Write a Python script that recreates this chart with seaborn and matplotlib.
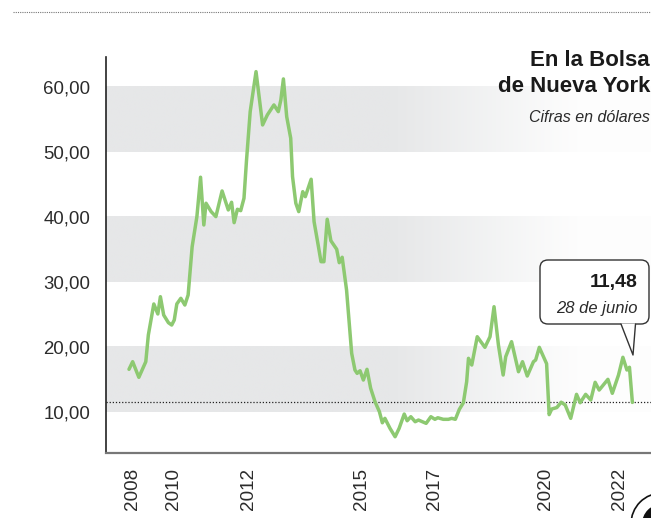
import numpy as np
import pandas as pd
import matplotlib
matplotlib.use("Agg")
import matplotlib.pyplot as plt
import seaborn as sns
from matplotlib.colors import LinearSegmentedColormap
from matplotlib.patches import FancyBboxPatch, Polygon, Circle

# Acción en la Bolsa de Nueva York (dólares), fecha como año decimal
anio = [2008.70, 2008.80, 2008.97, 2009.16, 2009.23, 2009.38, 2009.49, 2009.56, 2009.65, 2009.78,
        2009.87, 2009.94, 2010.01, 2010.12, 2010.23, 2010.32, 2010.43, 2010.56, 2010.66, 2010.75,
        2010.81, 2010.95, 2011.08, 2011.25, 2011.42, 2011.51, 2011.58, 2011.67, 2011.76, 2011.85,
        2011.92, 2012.02, 2012.18, 2012.36, 2012.49, 2012.67, 2012.79, 2012.86, 2012.93, 2013.02,
        2013.13, 2013.18, 2013.27, 2013.35, 2013.46, 2013.53, 2013.69, 2013.77, 2013.89, 2013.96,
        2014.04, 2014.13, 2014.23, 2014.39, 2014.46, 2014.54, 2014.66, 2014.80, 2014.89, 2014.95,
        2015.03, 2015.12, 2015.22, 2015.32, 2015.44, 2015.56, 2015.64, 2015.71, 2015.85, 2015.99,
        2016.10, 2016.24, 2016.32, 2016.42, 2016.54, 2016.63, 2016.84, 2016.97, 2017.08, 2017.16,
        2017.31, 2017.45, 2017.54, 2017.64, 2017.75, 2017.86, 2017.95, 2018.00, 2018.09, 2018.24,
        2018.45, 2018.59, 2018.70, 2018.82, 2018.95, 2019.02, 2019.18, 2019.37, 2019.48, 2019.61,
        2019.78, 2019.84, 2019.94, 2020.14, 2020.21, 2020.28, 2020.42, 2020.54, 2020.65, 2020.80,
        2020.96, 2021.06, 2021.21, 2021.35, 2021.47, 2021.58, 2021.82, 2021.94, 2022.11, 2022.23,
        2022.34, 2022.41, 2022.49]
precio = [16.57, 17.74, 15.34, 17.74, 21.85, 26.62, 25.08, 27.74, 24.92, 23.74,
          23.38, 24.15, 26.62, 27.49, 26.46, 28.00, 35.43, 40.05, 46.11, 38.77,
          42.11, 40.82, 40.05, 44.00, 41.08, 42.26, 39.12, 41.18, 40.97, 42.88,
          48.77, 56.20, 62.35, 54.15, 55.69, 57.23, 56.20, 58.00, 61.23, 55.43,
          52.11, 46.20, 42.11, 40.82, 43.89, 43.12, 45.80, 39.28, 35.43, 33.12,
          33.12, 39.65, 36.35, 35.03, 32.97, 33.80, 28.77, 19.03, 16.46, 15.95,
          16.35, 14.92, 16.57, 13.65, 11.58, 10.05, 8.35, 9.03, 7.49, 6.20,
          7.49, 9.69, 8.66, 9.28, 8.51, 8.77, 8.26, 9.28, 8.88, 9.12,
          8.88, 8.88, 9.03, 8.88, 10.42, 11.43, 14.66, 18.26, 17.23, 21.58,
          19.95, 21.58, 26.20, 20.31, 15.69, 18.51, 20.82, 16.20, 17.74, 15.54,
          17.74, 18.00, 19.95, 17.43, 9.60, 10.46, 10.69, 11.51, 11.08, 9.03,
          12.72, 11.43, 12.72, 11.85, 14.57, 13.38, 15.03, 12.88, 15.69, 18.42,
          16.46, 16.88, 11.48]

ultimo_valor = 11.48
ultima_fecha = "28 de junio"

y_ticks = [10, 20, 30, 40, 50, 60]
x_ticks = [2008.80, 2009.93, 2011.98, 2015.06, 2017.07, 2020.11, 2022.13]
x_labels = ["2008", "2010", "2012", "2015", "2017", "2020", "2022"]
bandas = [(10, 20), (30, 40), (50, 60)]

df = pd.DataFrame({"anio": anio, "precio": precio})

sns.set_style("white")
plt.rcParams['font.family'] = ['Liberation Sans', 'DejaVu Sans']

W, H = 651, 518
fig = plt.figure(figsize=(W / 100, H / 100), dpi=100)
ax = fig.add_axes([106 / W, 1 - 453 / H, 1 - 106 / W, (453 - 57) / H])

xmin, xmax = 2008.07, 2023.0
ymin, ymax = 3.7, 64.6

# franjas grises que se desvanecen hacia la derecha
gris = LinearSegmentedColormap.from_list("banda", ["#e6e7e8", "#ffffff"])
grad = np.clip((np.linspace(0, 1, 400) - 0.52) / 0.36, 0, 1)[None, :]
for lo, hi in bandas:
    ax.imshow(grad, extent=[xmin, xmax, lo, hi], aspect="auto", cmap=gris,
              vmin=0, vmax=1.05, zorder=0, interpolation="bilinear")

sns.lineplot(data=df, x="anio", y="precio", ax=ax, color="#8dc971",
             linewidth=2.5, zorder=3)
ax.axhline(ultimo_valor, color="#222222", linestyle=(0, (1, 1.5)), linewidth=0.9, zorder=2)

ax.set_xlim(xmin, xmax)
ax.set_ylim(ymin, ymax)
ax.set_xlabel("")
ax.set_ylabel("")
ax.set_yticks(y_ticks)
ax.set_yticklabels([f"{v:.2f}".replace(".", ",") for v in y_ticks],
                   fontsize=13.4, color="#2b2b2b")
ax.set_xticks(x_ticks)
ax.set_xticklabels(x_labels, rotation=90, fontsize=13.6, color="#2b2b2b")
ax.tick_params(axis="y", length=0, pad=11.5)
ax.tick_params(axis="x", length=0, pad=10.5)
for s in ["top", "right"]:
    ax.spines[s].set_visible(False)
ax.spines["left"].set_color("#222222")
ax.spines["left"].set_linewidth(1.2)
ax.spines["bottom"].set_color("#777777")
ax.spines["bottom"].set_linewidth(1.6)

# capa en píxeles para título, recuadro y adornos
ov = fig.add_axes([0, 0, 1, 1], facecolor="none", zorder=5)
ov.set_xlim(0, W)
ov.set_ylim(H, 0)
ov.axis("off")

ov.plot([13, W], [12, 12], color="#777777", linestyle=(0, (1, 1)), linewidth=0.8)

ov.text(650, 60, "En la Bolsa", ha="right", va="center", fontsize=16,
        fontweight="bold", color="#1a1a1a")
ov.text(650, 87, "de Nueva York", ha="right", va="center", fontsize=16,
        fontweight="bold", color="#1a1a1a")
ov.text(650, 118, "Cifras en dólares", ha="right", va="center", fontsize=11.5,
        style="italic", color="#2b2b2b")

caja = FancyBboxPatch((540, 260), 109, 64, boxstyle="round,pad=0,rounding_size=8",
                      facecolor="white", edgecolor="#333333", linewidth=1.0)
ov.add_patch(caja)
ov.add_patch(Polygon([(621, 323.5), (633, 355), (635.5, 323.5)], closed=True,
                     facecolor="white", edgecolor="none"))
ov.plot([621, 633, 635.5], [324, 355, 324], color="#333333", linewidth=1.0)
ov.text(638, 282, f"{ultimo_valor:.2f}".replace(".", ","), ha="right", va="center",
        fontsize=14, fontweight="bold", color="#1a1a1a")
ov.text(638, 309, ultima_fecha, ha="right", va="center", fontsize=12,
        style="italic", color="#2b2b2b")

ov.add_patch(Circle((662, 524), 31, facecolor="white", edgecolor="#111111", linewidth=1.2))
ov.add_patch(Circle((662, 524), 20, facecolor="#111111", edgecolor="none"))

fig.savefig("out.png", dpi=100)
